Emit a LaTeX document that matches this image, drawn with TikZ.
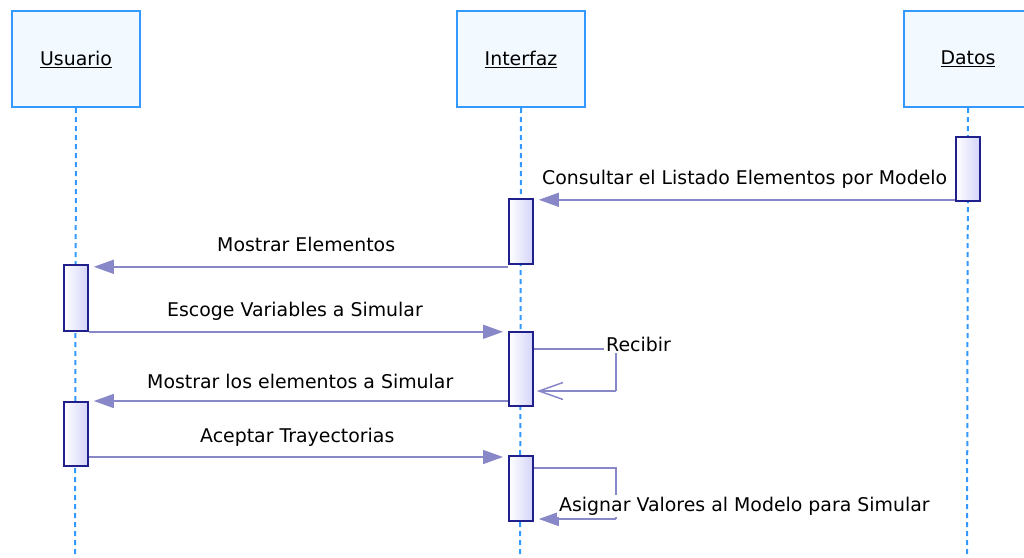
\documentclass[tikz,border=0pt]{standalone}
\usepackage{fontspec}
\setmainfont{DejaVu Sans}
\usetikzlibrary{arrows.meta,calc}
\definecolor{lifeblue}{RGB}{51,153,255}
\definecolor{headfill}{RGB}{242,249,255}
\definecolor{actedge}{RGB}{32,32,140}
\definecolor{actfill}{RGB}{212,212,250}
\definecolor{msg}{RGB}{136,136,200}
\begin{document}
\begin{tikzpicture}[x=1pt,y=-1pt,
  header/.style={draw=lifeblue, line width=2pt, fill=headfill, minimum width=128pt,
    minimum height=96pt, inner sep=0pt, anchor=north west,
    font=\fontsize{18.9}{22}\selectfont},
  lifeline/.style={draw=lifeblue, line width=2pt, dash pattern=on 5pt off 4pt},
  activation/.style={draw=actedge, line width=1.8pt, left color=white, right color=actfill,
    minimum width=24pt, minimum height=#1, inner sep=0pt, anchor=north west},
  message/.style={draw=msg, line width=1.5pt, -{Triangle[length=20pt,width=14pt]}, shorten >=5pt},
  reply/.style={draw=msg, line width=1.5pt, -{Straight Barb[length=24pt,width=17pt]}, shorten >=3pt},
  msglabel/.style={inner sep=0pt, anchor=west, font=\fontsize{18.9}{22}\selectfont},
  selflabel/.style={msglabel, fill=white, inner sep=2pt}
]
\useasboundingbox (0,0) rectangle (1024,557);

% participants
\node[header] (u) at (11,10) {\underline{Usuario}};
\node[header] (i) at (456,10) {\underline{Interfaz}};
\node[header] (d) at (903,10) {\underline{Datos}};

% lifelines
\coordinate (ub) at (75,557);
\coordinate (ib) at (520,557);
\coordinate (db) at (967,557);
\draw[lifeline] (u.south) -- (ub);
\draw[lifeline] (i.south) -- (ib);
\draw[lifeline] (d.south) -- (db);

% activation bars
\node[activation=64pt] (d1) at (955,136) {};
\node[activation=65pt] (i1) at (508,198) {};
\node[activation=66pt] (u1) at (63,264) {};
\node[activation=74pt] (i2) at (508,331) {};
\node[activation=64pt] (u2) at (63,401) {};
\node[activation=65pt] (i3) at (508,455) {};

% message start points on the sending bars
\coordinate (s1) at ($(d1.south west)+(0,-2)$);
\coordinate (s2) at ($(i1.south west)+(0,2)$);
\coordinate (s5) at (u2.north east -| i2.west);
\coordinate (s6) at ($(i3.north west -| u2.east)+(0,2)$);
\coordinate (e6) at ($(i3.north west)+(0,2)$);

% messages
\draw[message] (s1) -- (s1 -| i1.east);
\node[msglabel] (m1) at (542,179) {Consultar el Listado Elementos por Modelo};

\draw[message] (s2) -- (s2 -| u1.east);
\node[msglabel] (m2) at (217,244) {Mostrar Elementos};

\draw[message] (u1.south east) -- (u1.south east -| i2.west);
\node[msglabel] (m3) at (167,311) {Escoge Variables a Simular};

% self call: Recibir
\coordinate (r0) at ($(i2.north east)+(0,18)$);
\coordinate (r1) at (616,349);
\coordinate (r2) at (616,391);
\draw[draw=msg, line width=1.5pt] (r0) -- (r1) -- (r2);
\draw[reply] (r2) -- (r2 -| i2.east);
\node[selflabel] (m4) at (604,344) {Recibir};

\draw[message] (s5) -- (u2.north east);
\node[msglabel] (m5) at (147,381) {Mostrar los elementos a Simular};

\draw[message] (s6) -- (e6);
\node[msglabel] (m6) at (200,437) {Aceptar Trayectorias};

% self call: Asignar
\coordinate (a0) at ($(i3.north east)+(0,13)$);
\coordinate (a1) at (616,468);
\coordinate (a2) at (616,519);
\draw[draw=msg, line width=1.5pt] (a0) -- (a1) -- (a2);
\draw[message] (a2) -- (a2 -| i3.east);
\node[selflabel] (m7) at (557,506) {Asignar Valores al Modelo para Simular};
\end{tikzpicture}
\end{document}
